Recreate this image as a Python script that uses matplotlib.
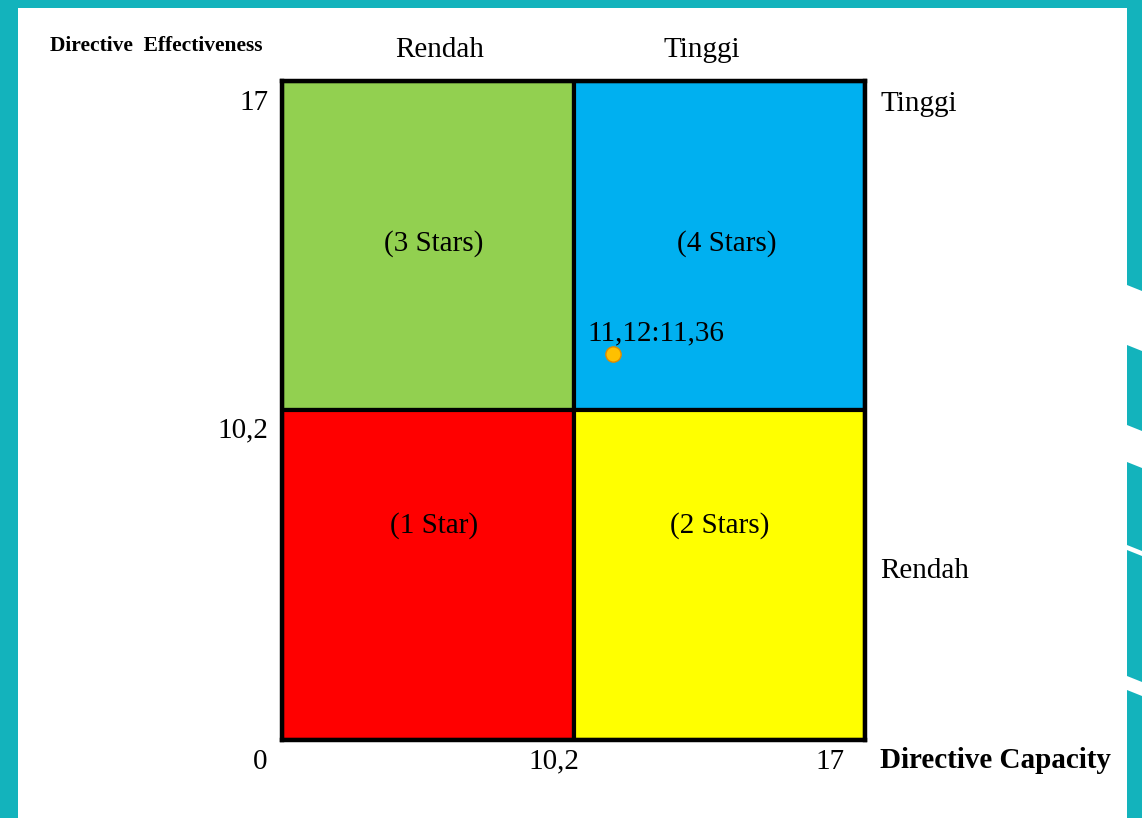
import numpy as np
import matplotlib
matplotlib.use("Agg")
import matplotlib.pyplot as plt
from matplotlib.patches import Rectangle, Polygon

plt.rcParams['font.family'] = ['Liberation Serif', 'DejaVu Serif']

# data
axis_max = 17
cut = 10.2
quad_x0 = [0, cut, 0, cut]
quad_y0 = [cut, cut, 0, 0]
quad_labels = ["(3 Stars)", "(4 Stars)", "(1 Star)", "(2 Stars)"]
quad_colors = ["#92D050", "#00B0F0", "#FF0000", "#FFFF00"]
point_x = [11.12]
point_y = [11.36]
point_label = "11,12:11,36"
level_labels = ["Rendah", "Tinggi"]


def fwd(v):
    v = np.asarray(v, dtype=float)
    return np.where(v <= cut, v / cut, 1 + (v - cut) / (axis_max - cut))


def inv(u):
    u = np.asarray(u, dtype=float)
    return np.where(u <= 1, u * cut, cut + (u - 1) * (axis_max - cut))


fig = plt.figure(figsize=(11.42, 8.18), dpi=100, facecolor="#13B3BC")
W, H = 1142, 818
# white slide area
fig.patches.append(Rectangle((18 / W, 0), (1127 - 18) / W, (818 - 8) / H,
                             transform=fig.transFigure, facecolor="white",
                             edgecolor="none", zorder=-2))
# white slanted stripes on the right border
for y1, y2 in [(285, 345), (425, 462), (545, 550), (676, 690)]:
    fig.patches.append(Polygon([(1127 / W, 1 - y1 / H), (1, 1 - (y1 + 6) / H),
                                (1, 1 - (y2 + 6) / H), (1127 / W, 1 - y2 / H)],
                               closed=True, transform=fig.transFigure,
                               facecolor="white", edgecolor="none", zorder=-2))

ax = fig.add_axes([282 / W, 78 / H, 583 / W, 659 / H])
ax.set_xscale("function", functions=(fwd, inv))
ax.set_yscale("function", functions=(fwd, inv))
ax.set_xlim(0, axis_max)
ax.set_ylim(0, axis_max)

for x0, y0, col in zip(quad_x0, quad_y0, quad_colors):
    w = cut if x0 == 0 else axis_max - cut
    h = cut if y0 == 0 else axis_max - cut
    ax.add_patch(Rectangle((x0, y0), w, h, facecolor=col, edgecolor="black",
                           linewidth=3, zorder=1))

ax.set_xticks([])
ax.set_yticks([])
for s in ax.spines.values():
    s.set_linewidth(3.2)
    s.set_zorder(3)

label_pos = [(0.261, 0.754), (0.763, 0.754), (0.261, 0.326), (0.75, 0.326)]
for (tx, ty), lab in zip(label_pos, quad_labels):
    ax.text(tx, ty, lab, transform=ax.transAxes, ha="center", va="center",
            fontsize=21)

ax.plot(point_x, point_y, marker="o", markersize=11, color="#FFC000",
        markeredgecolor="#E08A00", markeredgewidth=1, linestyle="none", zorder=4)
ax.text(0.6415, 0.617, point_label, transform=ax.transAxes, ha="center",
        va="center", fontsize=21)

# tick labels
ax.annotate("17", (0, axis_max), xytext=(-10, -16), textcoords="offset points",
            ha="right", va="center", fontsize=21, annotation_clip=False)
ax.annotate("10,2", (0, cut), xytext=(-10, -14.5), textcoords="offset points",
            ha="right", va="center", fontsize=21, annotation_clip=False)
ax.annotate("0", (0, 0), xytext=(-16, -16), textcoords="offset points",
            ha="center", va="center", fontsize=21, annotation_clip=False)
ax.annotate("10,2", (cut, 0), xytext=(-14, -15.5), textcoords="offset points",
            ha="center", va="center", fontsize=21, annotation_clip=False)
ax.annotate("17", (axis_max, 0), xytext=(-25, -15.5), textcoords="offset points",
            ha="center", va="center", fontsize=21, annotation_clip=False)

# level labels
ax.text(0.27, 1.047, level_labels[0], transform=ax.transAxes, ha="center",
        va="center", fontsize=21)
ax.text(0.72, 1.047, level_labels[1], transform=ax.transAxes, ha="center",
        va="center", fontsize=21)
ax.text(1.026, 0.965, level_labels[1], transform=ax.transAxes, ha="left",
        va="center", fontsize=21)
ax.text(1.026, 0.256, level_labels[0], transform=ax.transAxes, ha="left",
        va="center", fontsize=21)

fig.text(880 / W, 1 - 761 / H, "Directive Capacity", ha="left", va="center",
         fontsize=21, fontweight="bold")
fig.text(50 / W, 1 - 46 / H, "Directive  Effectiveness", ha="left", va="center",
         fontsize=15.5, fontweight="bold")

fig.savefig("out.png", dpi=100, facecolor=fig.get_facecolor())
